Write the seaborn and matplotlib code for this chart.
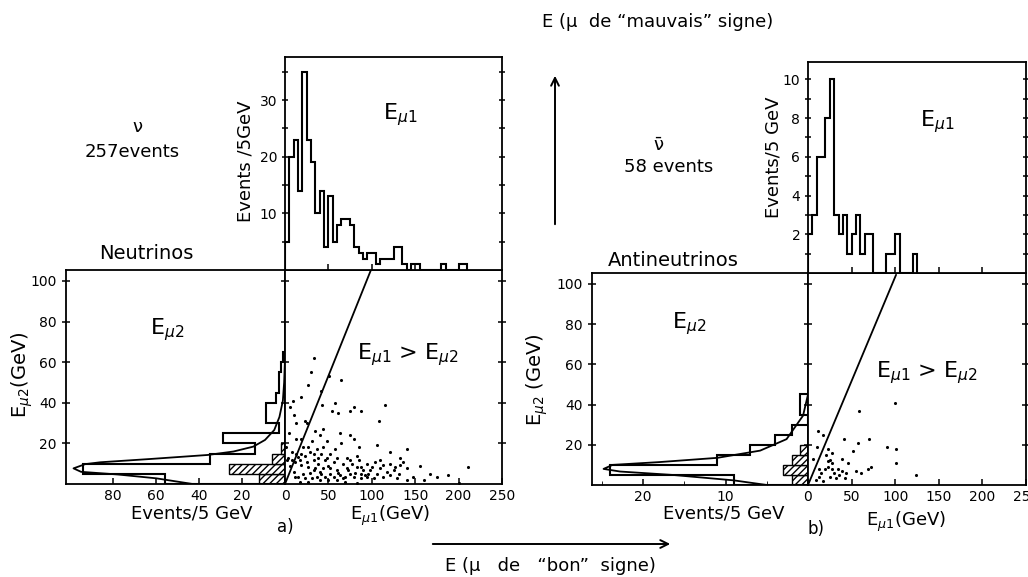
import numpy as np
import matplotlib
matplotlib.use('Agg')
import matplotlib.pyplot as plt
import seaborn as sns

# ---------------- data (5 GeV bins) ----------------
# neutrinos, E_mu1 spectrum (top histogram)
nu_e1_edges = np.arange(0, 215, 5)
nu_e1_counts = [5, 20, 23, 14, 35, 23, 19, 10, 14, 4,
                13, 5, 8, 9, 9, 8, 4, 3, 2, 3,
                3, 1, 2, 2, 2, 4, 4, 1, 0, 1,
                1, 0, 0, 0, 0, 0, 1, 0, 0, 0,
                1, 1]
# neutrinos, E_mu2 spectrum (sideways histogram)
nu_e2_edges = np.arange(0, 70, 5)
nu_e2_counts = [56, 94, 35, 14, 29, 3, 9, 9, 4, 3, 3, 2, 1]
nu_e2_hatched = [12, 26, 6, 2]
# predicted E_mu2 curve (GeV, events)
nu_curve_e = [0, 2.8, 4.7, 6, 7.7, 9.8, 10.7, 12.3, 14.3, 16, 18.4, 21.7, 26.6, 33, 41, 50, 62]
nu_curve_n = [43, 60, 78, 95, 98.5, 93, 86, 63, 36, 24, 14.8, 9.3, 5, 2.6, 1, 0.4, 0]
# neutrinos scatter E_mu1 vs E_mu2
nu_e1 = [33, 30, 51, 65, 26, 41, 19, 9, 43, 58, 79, 88, 115, 54, 61, 75, 6, 10, 108, 23,
         25, 13, 44, 35, 40, 63, 75, 48, 65, 80, 85, 106, 121, 140, 133, 156, 211, 188, 200, 5,
         13, 19, 8, 4, 6, 12, 17, 23, 29, 33, 38, 44, 50, 56, 60, 71, 77, 83, 90, 96,
         52, 42, 33, 27, 21, 15, 10, 37, 31, 63, 69, 87, 100, 104, 110, 117, 125, 131, 140, 113,
         102, 87, 79, 60, 50, 40, 17, 27, 1, 2, 13, 21, 31, 37, 52, 58, 71, 85, 94, 33,
         44, 60, 67, 46, 75, 94, 106, 121, 129, 148, 160, 167, 175, 140, 69, 83,
         15, 19, 25, 35, 40, 46, 52, 56, 61, 67, 73, 81, 88, 92, 98, 48,
         42, 38, 29, 23, 11.5, 8, 19, 27, 75, 83, 110, 113, 133, 136, 121, 127]
nu_e2 = [62, 55, 53, 51, 49, 46, 43, 41, 39, 40, 38, 36, 39, 36, 35, 36, 38, 34, 31, 31,
         30, 30, 27, 26, 24, 25, 24, 21, 20, 22, 18, 19, 16, 17, 13, 9, 8.5, 4.4, 0.7, 25,
         22, 22, 16, 13, 9, 11, 12, 14, 16, 12, 10, 8, 9, 11, 7, 8, 10, 8.5, 7, 5,
         5, 5, 7, 8.5, 5, 3.6, 6, 3.6, 3, 4.4, 3.6, 5, 8.5, 11, 8, 6, 7, 5, 8, 3.6,
         3, 3, 3.6, 2, 2, 2, 1, 1, 18, 12, 15, 18, 21, 17, 15, 17, 13, 12, 10, 15,
         18, 13, 10, 12, 5, 3.6, 5, 10, 3, 3.6, 2, 5, 3.6, 2, 1, 0.7,
         13.4, 9.3, 11, 7.7, 6, 3.6, 7.7, 3.6, 5.2, 2.8, 7, 5.2, 8.5, 4.4, 7, 12.6,
         15, 12.6, 5.2, 2.8, 3.6, 12, 15, 18, 12, 14, 12, 9.3, 9.3, 11, 4.4, 8.5]
nu_diag_e1 = [0, 99]
nu_diag_e2 = [0, 105.4]

# antineutrinos
anu_e1_edges = np.arange(0, 130, 5)
anu_e1_counts = [2, 3, 6, 6, 8, 10, 3, 2, 3, 1, 2, 3, 1, 2, 2, 0, 0, 0, 1, 1, 2, 0, 0, 0, 1]
anu_e2_edges = np.arange(0, 50, 5)
anu_e2_counts = [9, 24, 11, 7, 4, 2, 0, 1, 1]
anu_e2_hatched = [2, 3, 2, 1]
anu_curve_e = [0, 2.3, 5, 6.7, 8, 10, 11.4, 13.5, 17.1, 22.8, 34.5, 45]
anu_curve_n = [5, 9, 16.4, 22.8, 24.8, 23.7, 18, 11, 5.8, 2.6, 0.6, 0]
anu_e1 = [100, 59, 11, 17, 41, 70, 57, 91, 101, 52, 10, 23, 28, 39, 6, 46, 101, 72, 69, 55,
          61, 124, 21, 25, 27, 23, 28, 19, 30, 15, 13, 25, 36, 42, 32, 9, 17, 23, 34, 39,
          44, 13]
anu_e2 = [41, 37, 27, 25, 23, 23, 21, 19, 18, 17, 19, 18, 16, 13, 13, 11, 11, 9, 8, 7,
          6, 5, 15, 12.5, 11, 9, 8, 8, 6, 6, 4, 4, 5, 3.5, 3.5, 2.6, 2, 12, 8, 7,
          6, 8]
anu_diag_e1 = [0, 101]
anu_diag_e2 = [0, 104.5]

# ---------------- figure ----------------
sns.set_style('ticks')
plt.rcParams['font.family'] = ['DejaVu Sans']
plt.rcParams['hatch.linewidth'] = 1.0
plt.rcParams['axes.linewidth'] = 1.3
for key in ('text.color', 'axes.labelcolor', 'xtick.color', 'ytick.color', 'axes.edgecolor'):
    plt.rcParams[key] = 'black'

W, H = 1028, 577
fig = plt.figure(figsize=(W / 100, H / 100), dpi=100)


def box(l, t, r, b):
    return fig.add_axes([l / W, 1 - b / H, (r - l) / W, (b - t) / H])


def ftext(x, y, s, **kw):
    fig.text(x / W, 1 - y / H, s, ha='center', va='center', **kw)


TK = dict(labelsize=10, width=1.1, length=4)


def panel(side_box, sc_box, top_box, e1_edges, e1_counts, e1_ylim, e1_ticks, e1_minor,
          e2_edges, e2_counts, e2_hatch, side_xlim, side_ticks, side_minor,
          cx, cn, sx, sy, dx, dy):
    # sideways E_mu2 histogram
    axs = box(*side_box)
    centers = np.asarray(e2_edges[:len(e2_hatch)]) + 2.5
    axs.barh(centers, e2_hatch, height=5, color='white', edgecolor='k',
             hatch='/////', linewidth=1.0)
    axs.stairs(e2_counts, e2_edges, orientation='horizontal', color='k', lw=1.5)
    axs.plot(cn, cx, color='k', lw=1.3)
    axs.set_xlim(side_xlim, 0)
    axs.set_ylim(0, 105.4)
    axs.set_yticks([20, 40, 60, 80, 100])
    axs.set_xticks(side_ticks)
    axs.set_xticklabels([str(t) if t else '' for t in side_ticks])
    axs.set_xticks(side_minor, minor=True)
    axs.tick_params(axis='both', direction='in', **TK)
    axs.tick_params(axis='x', which='minor', direction='in', length=3)
    axs.tick_params(axis='y', direction='inout', length=6)

    # scatter
    axc = box(*sc_box)
    sns.scatterplot(x=sx, y=sy, ax=axc, s=5, color='k', linewidth=0, legend=False)
    axc.plot(dx, dy, color='k', lw=1.3)
    axc.set_xlim(0, 250)
    axc.set_ylim(0, 105.4)
    axc.set_xticks([0, 50, 100, 150, 200, 250])
    axc.set_yticks([20, 40, 60, 80, 100])
    axc.tick_params(axis='x', direction='in', **TK)
    axc.tick_params(axis='y', direction='inout', labelleft=False, right=True,
                    width=1.1, length=6)

    # top E_mu1 histogram
    axt = box(*top_box)
    axt.stairs(e1_counts, e1_edges, color='k', lw=1.5)
    axt.set_xlim(0, 250)
    axt.set_ylim(0, e1_ylim)
    axt.set_xticks([50, 100, 150, 200])
    axt.set_yticks(e1_ticks)
    axt.set_yticks(e1_minor, minor=True)
    axt.tick_params(axis='x', direction='in', labelbottom=False, **TK)
    axt.tick_params(axis='y', which='both', direction='inout', right=True, **TK)
    for a in (axs, axc, axt):
        for sp in a.spines.values():
            sp.set_visible(True)
    return axs, axc, axt


# neutrinos (a)
panel((66, 270, 285, 484), (285, 270, 502, 484), (285, 57, 502, 270),
      nu_e1_edges, nu_e1_counts, 37.6, [10, 20, 30], [5, 15, 25, 35],
      nu_e2_edges, nu_e2_counts, nu_e2_hatched, 102, [0, 20, 40, 60, 80], [],
      nu_curve_e, nu_curve_n, nu_e1, nu_e2, nu_diag_e1, nu_diag_e2)

# antineutrinos (b)
panel((592, 273, 808, 485), (808, 273, 1026, 485), (808, 62, 1026, 273),
      anu_e1_edges, anu_e1_counts, 10.9, [2, 4, 6, 8, 10], [1, 3, 5, 7, 9],
      anu_e2_edges, anu_e2_counts, anu_e2_hatched, 26.2, [0, 10, 20], [5, 15, 25],
      anu_curve_e, anu_curve_n, anu_e1, anu_e2, anu_diag_e1, anu_diag_e2)

# ---------------- labels ----------------
ftext(658, 22, 'E (\u03bc  de \u201cmauvais\u201d signe)', fontsize=13)
ftext(550, 566, 'E (\u03bc   de   \u201cbon\u201d  signe)', fontsize=13)

ftext(137, 127, '\u03bd', fontsize=13)
ftext(132, 152, '257events', fontsize=13)
ftext(146, 253, 'Neutrinos', fontsize=14)
ftext(245, 161, 'Events /5GeV', fontsize=13, rotation=90)
ftext(400, 115, r'E$_{\mu1}$', fontsize=16)
ftext(167, 330, r'E$_{\mu2}$', fontsize=16)
ftext(408, 355, r'E$_{\mu1}$ > E$_{\mu2}$', fontsize=16)
ftext(22, 375, r'E$_{\mu2}$(GeV)', fontsize=14, rotation=90)
ftext(192, 514, 'Events/5 GeV', fontsize=13)
ftext(285, 527, 'a)', fontsize=12)
ftext(390, 516, r'E$_{\mu1}$(GeV)', fontsize=13)

ftext(658, 145, '\u03bd\u0304', fontsize=13)
ftext(669, 167, '58 events', fontsize=13)
ftext(673, 260, 'Antineutrinos', fontsize=14)
ftext(773, 157, 'Events/5 GeV', fontsize=13, rotation=90)
ftext(937, 122, r'E$_{\mu1}$', fontsize=16)
ftext(689, 324, r'E$_{\mu2}$', fontsize=16)
ftext(927, 373, r'E$_{\mu1}$ > E$_{\mu2}$', fontsize=16)
ftext(537, 380, r'E$_{\mu2}$ (GeV)', fontsize=14, rotation=90)
ftext(724, 514, 'Events/5 GeV', fontsize=13)
ftext(816, 529, 'b)', fontsize=12)
ftext(906, 522, r'E$_{\mu1}$(GeV)', fontsize=13)

# arrows
arrow = dict(arrowstyle='->', lw=1.4, color='k', mutation_scale=14)
fig.axes[0].annotate('', xy=(555, H - 73), xytext=(555, H - 227),
                     xycoords='figure pixels', textcoords='figure pixels', arrowprops=arrow)
fig.axes[0].annotate('', xy=(673, H - 544), xytext=(430, H - 544),
                     xycoords='figure pixels', textcoords='figure pixels', arrowprops=arrow)

fig.savefig('out.png', dpi=100)
